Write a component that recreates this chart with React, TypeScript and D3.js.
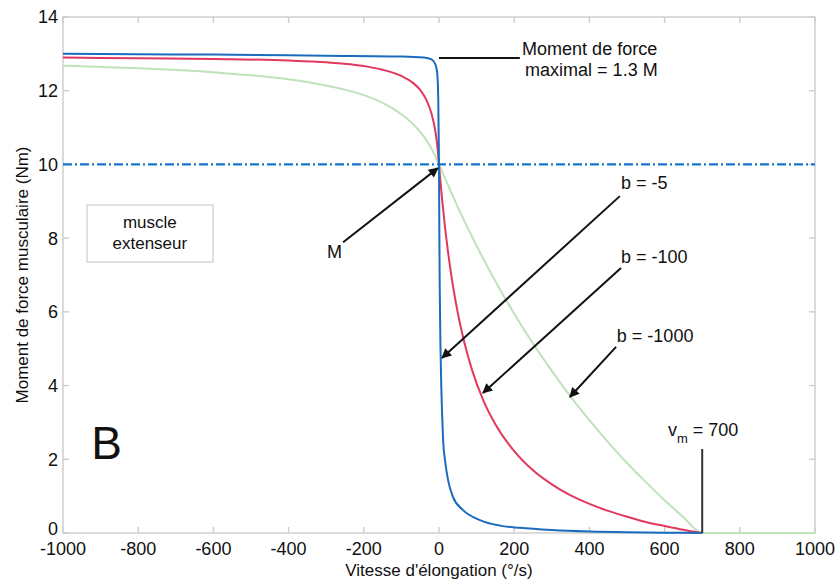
import React from "react";
import * as d3 from "d3";

const W = 838;
const H = 582;

const xTicks = [-1000, -800, -600, -400, -200, 0, 200, 400, 600, 800, 1000];
const yTicks = [0, 2, 4, 6, 8, 10, 12, 14];

// b = -5 (blue)
const blueX = [-1000, -800, -600, -300, -100, -40, -20, -10, -5, -2, 0, 1, 2, 4, 6, 8, 11, 16, 24, 37, 64, 109, 162, 215, 300, 400, 500, 600, 700];
const blueY = [13.0, 12.99, 12.98, 12.95, 12.93, 12.9, 12.85, 12.72, 12.5, 11.8, 10, 8.0, 6.6, 5.0, 4.0, 3.3, 2.5, 1.98, 1.44, 0.98, 0.62, 0.35, 0.2, 0.14, 0.08, 0.04, 0.02, 0.01, 0];

// b = -100 (red)
const redX = [-1000, -800, -600, -400, -300, -200, -150, -100, -70, -50, -35, -20, -10, -5, 0, 3, 8, 15, 24, 35, 50, 65, 88, 117, 150, 200, 250, 300, 350, 400, 450, 500, 550, 600, 650, 700];
const redY = [12.9, 12.88, 12.86, 12.82, 12.77, 12.67, 12.57, 12.4, 12.22, 12.02, 11.78, 11.38, 10.92, 10.55, 10, 9.64, 9.08, 8.39, 7.63, 6.84, 5.97, 5.27, 4.42, 3.62, 2.95, 2.22, 1.7, 1.32, 1.02, 0.79, 0.6, 0.44, 0.3, 0.19, 0.087, 0];

// b = -1000 (green)
const greenX = [-1000, -800, -600, -400, -300, -250, -200, -150, -100, -75, -50, -25, -10, 0, 50, 100, 150, 200, 250, 300, 350, 400, 450, 500, 550, 600, 650, 700, 800, 900, 1000];
const greenY = [12.68, 12.61, 12.5, 12.31, 12.14, 12.03, 11.88, 11.67, 11.36, 11.15, 10.88, 10.52, 10.23, 10, 8.84, 7.79, 6.83, 5.95, 5.14, 4.4, 3.7, 3.06, 2.46, 1.9, 1.38, 0.89, 0.43, 0, 0, 0, 0];

const M_VALUE = 10;
const VM = 700;

const FONT = "'Liberation Sans', Arial, Helvetica, sans-serif";

export default function App() {
  const left = 63, right = 815, top = 17, bottom = 533;
  const x = d3.scaleLinear().domain([-1000, 1000]).range([left, right]);
  const y = d3.scaleLinear().domain([0, 14]).range([bottom, top]);

  const line = d3
    .line<[number, number]>()
    .x((d) => x(d[0]))
    .y((d) => y(d[1]))
    .curve(d3.curveMonotoneX);

  const zip = (a: number[], b: number[]) => a.map((v, i) => [v, b[i]] as [number, number]);

  const tickLen = 6;
  const grey = "#cfcfcf";

  const arrows = [
    { x1: -255, y1: 7.89, x2: -3, y2: 9.9 },
    { x1: 481, y1: 9.14, x2: 8, y2: 4.75 },
    { x1: 484, y1: 7.19, x2: 117, y2: 3.8 },
    { x1: 471, y1: 5.05, x2: 348, y2: 3.69 },
  ];

  return (
    <svg
      width={W}
      height={H}
      style={{ position: "absolute", left: 0, top: 0, background: "#fff" }}
      fontFamily={FONT}
    >
      <defs>
        <marker
          id="ah"
          viewBox="0 0 10 10"
          refX="9"
          refY="5"
          markerWidth="6"
          markerHeight="5"
          orient="auto"
          markerUnits="strokeWidth"
        >
          <path d="M0,0 L10,5 L0,10 z" fill="#111" />
        </marker>
      </defs>
      <rect x={0} y={0} width={W} height={H} fill="#fff" />

      {/* axes box */}
      <rect x={left} y={top} width={right - left} height={bottom - top} fill="none" stroke={grey} strokeWidth={1.5} />
      {xTicks.map((t) => (
        <g key={"xt" + t}>
          <line x1={x(t)} x2={x(t)} y1={bottom} y2={bottom - tickLen} stroke={grey} strokeWidth={1.5} />
          <line x1={x(t)} x2={x(t)} y1={top} y2={top + tickLen} stroke={grey} strokeWidth={1.5} />
          <text x={x(t)} y={555} textAnchor="middle" fontSize={18} fill="#111">
            {t}
          </text>
        </g>
      ))}
      {yTicks.map((t) => (
        <g key={"yt" + t}>
          <line x1={left} x2={left + tickLen} y1={y(t)} y2={y(t)} stroke={grey} strokeWidth={1.5} />
          <line x1={right} x2={right - tickLen} y1={y(t)} y2={y(t)} stroke={grey} strokeWidth={1.5} />
          <text x={58} y={y(t) - (t === 0 ? 4 : 0)} dy="0.36em" textAnchor="end" fontSize={18} fill="#111">
            {t}
          </text>
        </g>
      ))}

      {/* axis titles */}
      <text x={(left + right) / 2} y={576} textAnchor="middle" fontSize={17} fill="#111">
        Vitesse d'élongation (°/s)
      </text>
      <text
        transform={`translate(28, ${(top + bottom) / 2}) rotate(-90)`}
        textAnchor="middle"
        fontSize={17}
        fill="#111"
      >
        Moment de force musculaire (Nm)
      </text>

      {/* curves */}
      <path d={line(zip(greenX, greenY)) || ""} fill="none" stroke="#bfe2bb" strokeWidth={2} />
      <line
        x1={x(-1000)}
        x2={x(1000)}
        y1={y(M_VALUE)}
        y2={y(M_VALUE)}
        stroke="#1a74cc"
        strokeWidth={2.2}
        strokeDasharray="9 3 2 3"
      />
      <path d={line(zip(redX, redY)) || ""} fill="none" stroke="#e2385e" strokeWidth={2} />
      <path d={line(zip(blueX, blueY)) || ""} fill="none" stroke="#1b6cbf" strokeWidth={2} />

      {/* v_m vertical */}
      <line x1={x(VM)} x2={x(VM)} y1={y(0)} y2={y(2.28)} stroke="#333" strokeWidth={2} />
      <text x={x(609)} y={y(2.63)} fontSize={18} fill="#111">
        v<tspan dy={7} fontSize={13}>m</tspan>
        <tspan dy={-7}> = 700</tspan>
      </text>

      {/* max annotation */}
      <line x1={x(0)} x2={x(215)} y1={y(12.89)} y2={y(12.89)} stroke="#111" strokeWidth={2} />
      <text x={x(221)} y={y(12.97)} fontSize={18} fill="#111">
        Moment de force
      </text>
      <text x={x(229)} y={y(12.4)} fontSize={18} fill="#111">
        maximal = 1.3 M
      </text>

      {/* arrows */}
      {arrows.map((a, i) => (
        <line
          key={"ar" + i}
          x1={x(a.x1)}
          y1={y(a.y1)}
          x2={x(a.x2)}
          y2={y(a.y2)}
          stroke="#111"
          strokeWidth={2}
          markerEnd="url(#ah)"
        />
      ))}
      <text x={x(-298)} y={y(7.46)} fontSize={18} fill="#111">
        M
      </text>
      <text x={x(484)} y={y(9.33)} fontSize={18} fill="#111">
        b = -5
      </text>
      <text x={x(484)} y={y(7.33)} fontSize={18} fill="#111">
        b = -100
      </text>
      <text x={x(473)} y={y(5.18)} fontSize={18} fill="#111">
        b = -1000
      </text>

      {/* muscle box */}
      <rect
        x={x(-936)}
        y={y(8.9)}
        width={x(-601) - x(-936)}
        height={y(7.35) - y(8.9)}
        fill="#fff"
        stroke="#d6d6d6"
        strokeWidth={1.5}
      />
      <text x={x(-769)} y={y(8.27)} textAnchor="middle" fontSize={17} fill="#111">
        muscle
      </text>
      <text x={x(-769)} y={y(7.7)} textAnchor="middle" fontSize={17} fill="#111">
        extenseur
      </text>

      {/* panel letter */}
      <text x={x(-925)} y={y(2.0)} fontSize={46} fill="#111">
        B
      </text>
    </svg>
  );
}
